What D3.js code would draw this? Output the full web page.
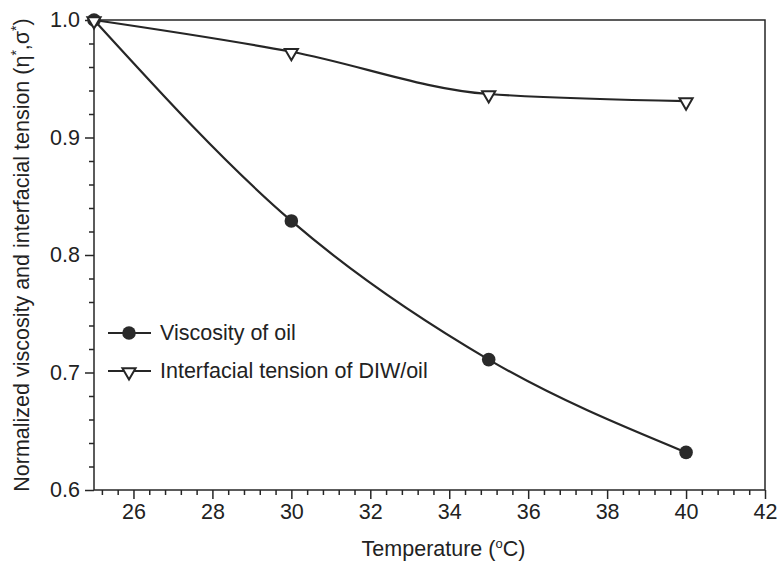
<!DOCTYPE html>
<html><head><meta charset="utf-8">
<script src="https://cdn.jsdelivr.net/npm/d3@7"></script>
<style>body{margin:0;background:#fff}svg text{font-family:"Liberation Sans",Arial,sans-serif;fill:#222}</style>
</head><body>
<svg id="c" width="777" height="562"></svg>
<script>
const temperature = [25, 30, 35, 40];
const viscosity = [1.0, 0.829, 0.711, 0.632];
const tension = [1.0, 0.973, 0.937, 0.931];
const xTicks = [26, 28, 30, 32, 34, 36, 38, 40, 42];
const yTicks = [0.6, 0.7, 0.8, 0.9, 1.0];
const seriesNames = ["Viscosity of oil", "Interfacial tension of DIW/oil"];

const svg = d3.select("#c");
const m = {l: 94, r: 12, t: 20, b: 72};
const W = 777, H = 562;
const x = d3.scaleLinear().domain([25, 42]).range([m.l, W - m.r]);
const y = d3.scaleLinear().domain([0.6, 1.0]).range([H - m.b, m.t]);
const col = "#262626";
const FS = 21.5;

// frame
svg.append("rect").attr("x", x(25)).attr("y", y(1.0)).attr("width", x(42) - x(25)).attr("height", y(0.6) - y(1.0))
  .attr("fill", "none").attr("stroke", col).attr("stroke-width", 1.5);

// x axis
const xMinor = d3.range(25.2, 42.01, 0.4).filter(v => Math.abs(v - Math.round(v / 2) * 2) > 0.05);
const gx = svg.append("g").attr("transform", `translate(0,${y(0.6)})`);
gx.call(d3.axisBottom(x).tickValues(xMinor).tickSize(5).tickFormat(""));
gx.call(g => g.selectAll(".domain").remove());
const gx2 = svg.append("g").attr("transform", `translate(0,${y(0.6)})`);
gx2.call(d3.axisBottom(x).tickValues(xTicks).tickSize(9).tickPadding(5).tickFormat(d3.format("d")));
gx2.select(".domain").remove();
gx2.selectAll("text").attr("font-size", FS).attr("fill", "#222");

// y axis
const yMinor = d3.range(0.62, 1.0, 0.02).filter(v => Math.abs(v * 10 - Math.round(v * 10)) > 0.05);
const gy = svg.append("g").attr("transform", `translate(${x(25)},0)`);
gy.call(d3.axisLeft(y).tickValues(yMinor).tickSize(5).tickFormat(""));
gy.select(".domain").remove();
const gy2 = svg.append("g").attr("transform", `translate(${x(25)},0)`);
gy2.call(d3.axisLeft(y).tickValues(yTicks).tickSize(9).tickPadding(5).tickFormat(d3.format(".1f")));
gy2.select(".domain").remove();
svg.selectAll(".tick line").attr("stroke", col).attr("stroke-width", 1.5);
gy2.selectAll("text").attr("font-size", FS).attr("fill", "#222");

// axis titles
const xt = svg.append("text").attr("x", (x(25) + x(42)) / 2 + 14).attr("y", 556).attr("text-anchor", "middle").attr("font-size", FS);
xt.append("tspan").text("Temperature (");
xt.append("tspan").attr("font-size", 13).attr("dy", -8).text("o");
xt.append("tspan").attr("dy", 8).text("C)");

const yt = svg.append("text").attr("transform", `translate(29,${(y(0.6) + y(1.0)) / 2}) rotate(-90)`).attr("text-anchor", "middle").attr("font-size", FS);
yt.append("tspan").text("Normalized viscosity and interfacial tension (η");
yt.append("tspan").attr("font-size", 14).attr("dy", -8).text("*");
yt.append("tspan").attr("dy", 8).text(",σ");
yt.append("tspan").attr("font-size", 14).attr("dy", -8).text("*");
yt.append("tspan").attr("dy", 8).text(")");

// lines
const line = d3.line().x(d => x(d[0])).y(d => y(d[1])).curve(d3.curveMonotoneX);
const vData = temperature.map((t, i) => [t, viscosity[i]]);
const tData = temperature.map((t, i) => [t, tension[i]]);
svg.append("path").attr("d", line(vData)).attr("fill", "none").attr("stroke", col).attr("stroke-width", 2.2);
svg.append("path").attr("d", line(tData)).attr("fill", "none").attr("stroke", col).attr("stroke-width", 2.2);

const tri = d3.symbol().type(d3.symbolTriangle).size(75);
function circle(g, cx, cy) {
  g.append("circle").attr("cx", cx).attr("cy", cy).attr("r", 6.8).attr("fill", "#2a2a2a");
}
function triangle(g, cx, cy) {
  g.append("path").attr("d", tri()).attr("transform", `translate(${cx},${cy + 1}) rotate(180)`)
    .attr("fill", "#fff").attr("stroke", col).attr("stroke-width", 2);
}
vData.forEach(d => circle(svg, x(d[0]), y(d[1])));
tData.forEach(d => triangle(svg, x(d[0]), y(d[1])));

// legend
const lg = [{y: 333, f: circle, n: seriesNames[0]}, {y: 371, f: triangle, n: seriesNames[1]}];
lg.forEach(e => {
  svg.append("line").attr("x1", 108).attr("x2", 151).attr("y1", e.y).attr("y2", e.y).attr("stroke", col).attr("stroke-width", 2.2);
  e.f(svg, 129, e.y);
  svg.append("text").attr("x", 160).attr("y", e.y + 7).attr("font-size", FS).text(e.n);
});
</script>
</body></html>
